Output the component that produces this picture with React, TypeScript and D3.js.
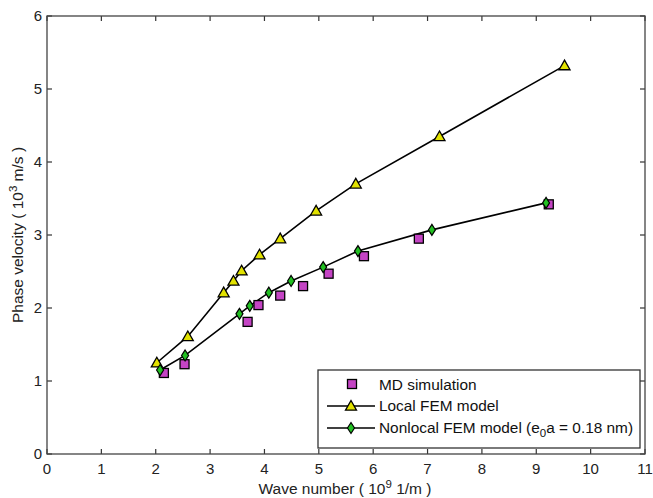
import React from "react";
import * as d3 from "d3";

const mdX = [2.15, 2.53, 3.69, 3.89, 4.29, 4.71, 5.18, 5.83, 6.84, 9.23];
const mdY = [1.11, 1.23, 1.81, 2.04, 2.17, 2.30, 2.47, 2.71, 2.95, 3.42];

const localX = [2.02, 2.59, 3.25, 3.43, 3.58, 3.91, 4.29, 4.95, 5.68, 7.22, 9.52];
const localY = [1.25, 1.61, 2.21, 2.37, 2.51, 2.73, 2.95, 3.33, 3.70, 4.35, 5.32];

const nonlocalX = [2.08, 2.54, 3.54, 3.73, 4.08, 4.49, 5.08, 5.72, 7.08, 9.18];
const nonlocalY = [1.15, 1.35, 1.92, 2.03, 2.21, 2.37, 2.56, 2.78, 3.07, 3.44];

const xTicks = [0, 1, 2, 3, 4, 5, 6, 7, 8, 9, 10, 11];
const yTicks = [0, 1, 2, 3, 4, 5, 6];

const W = 653;
const H = 498;
const L = 47, R = 645, T = 16, B = 454;

const YELLOW = "#e2e200";
const MAGENTA = "#c444c4";
const GREEN = "#22c022";
const FONT = "'Liberation Sans', Arial, sans-serif";

function Triangle({ x, y }: { x: number; y: number }) {
  const s = 5.5;
  return (
    <path
      d={`M${x},${y - s} L${x + s},${y + s * 0.75} L${x - s},${y + s * 0.75} Z`}
      fill={YELLOW}
      stroke="#000"
      strokeWidth={1.3}
    />
  );
}
function Square({ x, y }: { x: number; y: number }) {
  const s = 4.5;
  return <rect x={x - s} y={y - s} width={2 * s} height={2 * s} fill={MAGENTA} stroke="#000" strokeWidth={1.3} />;
}
function Diamond({ x, y }: { x: number; y: number }) {
  const w = 3.5, h = 5.5;
  return (
    <path
      d={`M${x},${y - h} L${x + w},${y} L${x},${y + h} L${x - w},${y} Z`}
      fill={GREEN}
      stroke="#000"
      strokeWidth={1.2}
    />
  );
}

export default function App() {
  const x = d3.scaleLinear().domain([0, 11]).range([L, R]);
  const y = d3.scaleLinear().domain([0, 6]).range([B, T]);
  const line = d3
    .line<[number, number]>()
    .x((d) => x(d[0]))
    .y((d) => y(d[1]));
  const localPts = localX.map((v, i) => [v, localY[i]] as [number, number]);
  const nonPts = nonlocalX.map((v, i) => [v, nonlocalY[i]] as [number, number]);
  const tl = 5;

  const lgX = 318, lgY = 370, lgW = 322, lgH = 78;
  const rows = [385, 406, 428];

  return (
    <svg width={W} height={H} style={{ position: "absolute", left: 0, top: 0, background: "#fff" }} fontFamily={FONT}>
      <rect x={0} y={0} width={W} height={H} fill="#fff" />
      {/* ticks */}
      {xTicks.map((t) => (
        <g key={"xt" + t}>
          <line x1={x(t)} x2={x(t)} y1={B} y2={B - tl} stroke="#333" strokeWidth={1.2} />
          <line x1={x(t)} x2={x(t)} y1={T} y2={T + tl} stroke="#333" strokeWidth={1.2} />
          <text x={x(t)} y={B + 20} textAnchor="middle" fontSize={15} fill="#222">
            {t}
          </text>
        </g>
      ))}
      {yTicks.map((t) => (
        <g key={"yt" + t}>
          <line x1={L} x2={L + tl} y1={y(t)} y2={y(t)} stroke="#333" strokeWidth={1.2} />
          <line x1={R} x2={R - tl} y1={y(t)} y2={y(t)} stroke="#333" strokeWidth={1.2} />
          <text x={L - 5} y={y(t) + 5} textAnchor="end" fontSize={15} fill="#222">
            {t}
          </text>
        </g>
      ))}
      <rect x={L} y={T} width={R - L} height={B - T} fill="none" stroke="#444" strokeWidth={1.3} />

      {/* lines */}
      <path d={line(localPts) || ""} fill="none" stroke="#000" strokeWidth={1.6} />
      <path d={line(nonPts) || ""} fill="none" stroke="#000" strokeWidth={1.6} />

      {mdX.map((v, i) => (
        <Square key={"m" + i} x={x(v)} y={y(mdY[i])} />
      ))}
      {localPts.map((p, i) => (
        <Triangle key={"l" + i} x={x(p[0])} y={y(p[1])} />
      ))}
      {nonPts.map((p, i) => (
        <Diamond key={"n" + i} x={x(p[0])} y={y(p[1])} />
      ))}

      {/* legend */}
      <rect x={lgX} y={lgY} width={lgW} height={lgH} fill="#fff" stroke="#333" strokeWidth={1.3} />
      <Square x={352} y={rows[0] - 1} />
      <line x1={327} x2={375} y1={rows[1]} y2={rows[1]} stroke="#000" strokeWidth={1.6} />
      <Triangle x={351} y={rows[1]} />
      <line x1={327} x2={375} y1={rows[2]} y2={rows[2]} stroke="#000" strokeWidth={1.6} />
      <Diamond x={351} y={rows[2]} />
      <text x={379} y={rows[0] + 5} fontSize={15.4} fill="#111">MD simulation</text>
      <text x={379} y={rows[1] + 5} fontSize={15.4} fill="#111">Local FEM model</text>
      <text x={379} y={rows[2] + 5} fontSize={15.4} fill="#111">
        Nonlocal FEM model (e
        <tspan fontSize={11.5} dy={4}>0</tspan>
        <tspan dy={-4}>a = 0.18 nm)</tspan>
      </text>

      {/* axis labels */}
      <text x={345} y={494} textAnchor="middle" fontSize={15.5} fill="#222">
        Wave number ( 10<tspan fontSize={11.5} dy={-6}>9</tspan>
        <tspan dy={6}> 1/m )</tspan>
      </text>
      <text transform={`translate(23,${(T + B) / 2}) rotate(-90)`} textAnchor="middle" fontSize={15.5} fill="#222">
        Phase velocity ( 10<tspan fontSize={11.5} dy={-6}>3</tspan>
        <tspan dy={6}> m/s )</tspan>
      </text>
    </svg>
  );
}
